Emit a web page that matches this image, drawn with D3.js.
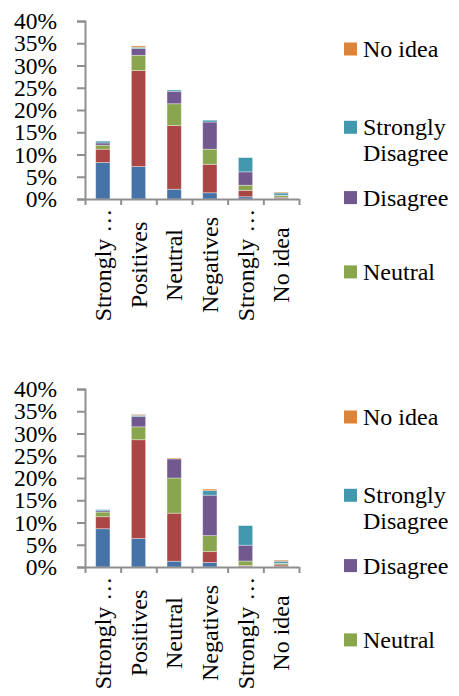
<!DOCTYPE html>
<html><head><meta charset="utf-8"><script src="https://cdn.jsdelivr.net/npm/d3@7"></script></head>
<body style="margin:0">
<svg id="chart" width="459" height="696"></svg>
<script>
// Response categories along the x axis
const categories = ["Strongly \u2026", "Positives", "Neutral", "Negatives", "Strongly \u2026", "No idea"];

// Stacked series, bottom to top
const seriesNames = ["Strongly Agree", "Agree", "Neutral", "Disagree", "Strongly Disagree", "No idea"];
const seriesColors = ["#4572A7", "#AA4643", "#89A54E", "#71588F", "#4198AF", "#DB843D"];

// Upper chart values (% of respondents)
const stronglyAgreeA    = [8.2, 7.3, 2.2, 1.4, 0.5, 0.1];
const agreeA            = [3.0, 21.6, 14.3, 6.4, 1.45, 0.3];
const neutralA          = [0.9, 3.4, 4.9, 3.4, 1.15, 0.4];
const disagreeA         = [0.5, 1.5, 2.8, 6.1, 3.0, 0.05];
const stronglyDisagreeA = [0.4, 0.3, 0.3, 0.4, 3.2, 0.5];
const noIdeaA           = [0, 0.3, 0, 0, 0, 0.2];

// Lower chart values (% of respondents)
const stronglyAgreeB    = [8.6, 6.4, 1.3, 1.0, 0.1, 0.1];
const agreeB            = [2.7, 22.2, 10.8, 2.45, 0.25, 0.35];
const neutralB          = [1.05, 2.9, 7.9, 3.6, 1.0, 0.3];
const disagreeB         = [0.3, 2.3, 4.3, 9.1, 3.55, 0.1];
const stronglyDisagreeB = [0.25, 0.3, 0, 1.0, 4.4, 0.45];
const noIdeaB           = [0, 0.2, 0.2, 0.35, 0, 0.25];

// Y axis tick values (fractions)
const yTicks = [0, 0.05, 0.10, 0.15, 0.20, 0.25, 0.30, 0.35, 0.40];

// Legend shows the series in reverse stacking order
const legendLabels = [["No idea"], ["Strongly", "Disagree"], ["Disagree"], ["Neutral"]];
const legendColors = ["#DB843D", "#4198AF", "#71588F", "#89A54E"];

const FONT = '"Liberation Serif", monospace';
const axisColor = "#8f8f8f";

const svg = d3.select("#chart");

// Serif text placed directly on the root svg
function serifText(size) {
  return svg.append("text")
    .attr("font-size", size)
    .style("font-family", FONT);
}

function drawChart(oy, seriesArrays) {
  const left = 85, right = 299, top = 21 + oy, bottom = 199 + oy;

  const y = d3.scaleLinear().domain([0, 0.4]).range([bottom, top]);
  const x = d3.scaleBand().domain(d3.range(categories.length))
    .range([left, right]).paddingInner(0.6).paddingOuter(0.3);
  const xEdges = d3.scaleLinear().domain([0, categories.length]).range([left, right]);

  // Stack rows
  const rows = categories.map((c, i) => {
    const r = { idx: i };
    seriesNames.forEach((s, k) => { r[s] = seriesArrays[k][i] / 100; });
    return r;
  });
  const stacked = d3.stack().keys(seriesNames)(rows);

  svg.append("g").selectAll("g").data(stacked).join("g")
    .attr("fill", (d, k) => seriesColors[k])
    .selectAll("rect").data(d => d).join("rect")
    .attr("x", d => x(d.data.idx))
    .attr("width", x.bandwidth())
    .attr("y", d => y(d[1]))
    .attr("height", d => Math.max(0, y(d[0]) - y(d[1])))
    .attr("stroke", "rgba(255,255,255,0.45)")
    .attr("stroke-width", 0.8);

  // Y axis line and ticks
  const yAxis = svg.append("g").attr("transform", `translate(${left},0)`)
    .call(d3.axisLeft(y).tickValues(yTicks).tickFormat("").tickSize(8));
  yAxis.select(".domain").attr("stroke", axisColor).attr("stroke-width", 2);
  yAxis.selectAll(".tick line").attr("stroke", axisColor).attr("stroke-width", 2);

  // Y tick labels
  yTicks.forEach(v => {
    serifText(23.5)
      .attr("x", left - 28).attr("y", y(v) + 8)
      .attr("text-anchor", "end")
      .text(d3.format(".0%")(v));
  });

  // X axis with tick marks on category boundaries
  const xAxis = svg.append("g").attr("transform", `translate(0,${bottom})`)
    .call(d3.axisBottom(xEdges).tickValues(d3.range(categories.length + 1)).tickFormat("").tickSize(6).tickSizeOuter(0));
  xAxis.select(".domain").attr("stroke", axisColor).attr("stroke-width", 2);
  xAxis.selectAll(".tick line").attr("stroke", axisColor).attr("stroke-width", 2);

  // Rotated category labels
  categories.forEach((c, i) => {
    serifText(24)
      .attr("transform", `translate(${x(i) + x.bandwidth() / 2 + 8},${265 + oy}) rotate(-90)`)
      .attr("text-anchor", "middle")
      .text(c);
  });

  // Legend
  legendLabels.forEach((lines, i) => {
    const cy = 49 + oy + i * 74.3 + (lines.length > 1 ? 4 : 0);
    svg.append("rect").attr("x", 344).attr("y", cy - 6.5).attr("width", 13).attr("height", 13)
      .attr("fill", legendColors[i]);
    lines.forEach((ln, j) => {
      serifText(24).attr("x", 363).attr("y", cy + 8 + j * 26).text(ln);
    });
  });
}

drawChart(0, [stronglyAgreeA, agreeA, neutralA, disagreeA, stronglyDisagreeA, noIdeaA]);
drawChart(368, [stronglyAgreeB, agreeB, neutralB, disagreeB, stronglyDisagreeB, noIdeaB]);
</script>
</body>
</html>
